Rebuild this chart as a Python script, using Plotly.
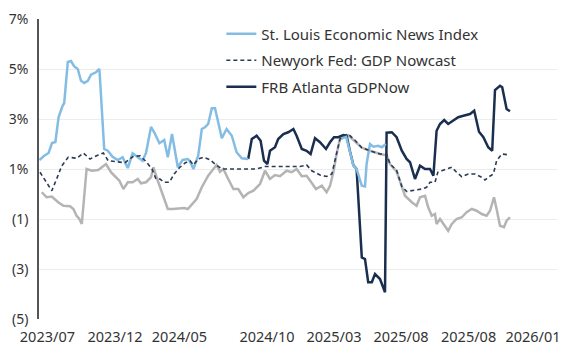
import plotly.graph_objects as go

# x = observation index (weeks), y = GDP growth estimate (%)
tick_pos = [2.1, 19, 35.1, 57, 73.75, 90.5, 107.4, 123.5]
tick_text = ["2023/07", "2023/12", "2024/05", "2024/10", "2025/03", "2025/08", "2025/08", "2026/01"]

y_ticks = [-5, -3, -1, 1, 3, 5, 7]
y_text = ["(5)", "(3)", "(1)", "1%", "3%", "5%", "7%"]

stl_x = [0.1, 1.3, 2.4, 3.25, 4.1, 4.9, 5.9, 6.3, 7.2, 8.0, 8.8, 9.7, 10.5, 11.3, 12.2, 13.0, 14.25, 15.1,
         16.3, 17.2, 18.4, 19.7, 20.9, 22.2, 23.4, 24.7, 25.9, 26.75, 28, 28.8, 30.1, 31.3, 32.2, 33.25,
         34.7, 35.9, 37.2, 37.75, 38.6, 39.8, 40.7, 41.5, 42.3, 43.2, 44, 44.8, 45.7, 46.9, 48.2, 49.4,
         50.7, 52.3, None,
         75.5, 76.75, 77.75, 78.6, 79.4, 79.8, 80.7, 81.5, 81.9, 82.75, 83.6, 84.8, 85.7, 86.7]
stl_y = [1.36, 1.53, 1.64, 2.04, 2.08, 3.08, 3.53, 3.64, 5.28, 5.32, 5.1, 5.0, 4.53, 4.44, 4.53, 4.77, 4.87, 5.0,
         1.8, 1.73, 1.49, 1.36, 1.47, 1.04, 1.63, 1.47, 1.33, 1.64, 2.68, 2.47, 2.03, 2.16, 1.47, 2.4,
         1.07, 1.36, 1.4, 1.3, 1.0, 1.53, 2.6, 2.67, 2.8, 3.43, 3.43, 2.87, 2.23, 2.6, 2.33, 1.67,
         1.43, 1.4, None,
         2.2, 2.3, 1.68, 1.13, 1.0, 0.8, 0.33, 0.3, 1.2, 2.0, 1.89, 1.93, 1.87, 2.0]

ny_x = [0.25, 2.3, 3.2, 4.4, 5.7, 7.3, 9.4, 11.1, 12.75, 14.8, 16.1, 17.3, 19, 21.5, 23.5, 25.25, 26.75,
        28.25, 29.25, 30.25, 31.3, 32.6, 33.8, 35.1, 36.5, 37.75, 38.6, 39.8, 41.1, 42.75, 44, 45.7, 47.75,
        51.1, 54.4, 56.5, 59.4, 62.75, 65.25, 66.9, 68.2, 70.25, 71.9, 73.2, 74.4, 75.25, 76.1, 77.3, 79,
        80.7, 82.75, 85.25, 86.9, 87.75, 89.4, 90.7, 91.9, 94, 95.7, 96.9, 97.75, 99, 99.7, 100.7, 101.9,
        103.2, 104.4, 105.7, 107.3, 109, 110.7, 111.5, 112.3, 113.6, 114.4, 115.7, 117.3]
ny_y = [0.87, 0.33, 0.13, 0.6, 1.13, 1.47, 1.43, 1.64, 1.4, 1.56, 1.64, 1.33, 1.3, 1.25, 1.5, 1.53, 1.3,
        1.0, 0.6, 0.6, 0.47, 0.47, 0.8, 1.05, 1.24, 1.33, 1.16, 1.4, 1.47, 1.37, 1.2, 1.0, 1.0,
        1.0, 1.0, 1.1, 1.1, 1.1, 1.1, 1.16, 0.93, 0.76, 0.7, 0.8, 1.6, 2.2, 2.33, 2.4, 2.15,
        1.85, 1.73, 1.6, 1.6, 1.2, 0.95, 0.3, 0.1, 0.15, 0.2, 0.27, 0.47, 0.47, 0.87, 0.93, 1.0,
        1.07, 0.87, 0.69, 0.8, 0.8, 0.67, 0.56, 0.67, 0.8, 1.33, 1.6, 1.57]

atl_x = [52.3, 53.2, 54.4, 55.4, 56.25, 57.1, 57.75, 59, 59.8, 61.1, 62.3, 63.6, 64.4, 65.7, 66.9, 67.9,
         69, 70.25, 71.75, 72.75, 73.75, 74.8, 76.1, 76.9, 77.75, 78.6, 79.4, 80.7, 81.5, 82.3, 83.2, 84,
         85.25, 86.5, 86.9, 88.2, 89.4, 90.7, 91.9, 92.75, 94, 95.25, 96.5, 97.75, 98.6, 99.4, 100.25,
         101.3, 102.3, 103.6, 104.8, 106.1, 107.75, 108.8, 110, 111.1, 112.3, 113.3, 114, 115.25, 115.8,
         116.9, 117.75]
atl_y = [1.4, 2.2, 2.33, 2.13, 1.33, 1.2, 1.73, 1.87, 2.2, 2.4, 2.47, 2.6, 2.33, 1.8, 1.73, 1.6,
         2.23, 2.07, 1.8, 2.07, 2.27, 2.27, 2.36, 2.33, 1.7, 1.15, 1.0, -2.54, -2.6, -3.53, -3.53, -3.2,
         -3.4, -3.93, 2.45, 2.47, 2.27, 1.73, 1.4, 1.27, 0.6, 1.13, 1.0, 1.0, 0.73, 2.53, 2.8,
         2.96, 2.8, 2.93, 3.07, 3.13, 3.2, 3.33, 2.49, 2.27, 1.87, 1.73, 4.16, 4.33, 4.27,
         3.4, 3.31]

gray_x = [0.7, 1.9, 3.2, 4.8, 6.1, 7.75, 8.6, 9.4, 10.1, 10.7, 11.9, 13.2, 14.8, 16.75, 18, 19.25, 20.1,
          21.1, 22.2, 23.4, 24.7, 25.5, 26.75, 28, 28.6, 29.7, 30.9, 32.2, 33.4, 35.1, 36.3, 37.2, 38.4,
          39.4, 40.7, 42.3, 43.6, 44.4, 45.25, 46.1, 47.3, 48.6, 49.8, 51.1, 52.3, 53.6, 55.25, 56.5,
          57.75, 59, 60.25, 61.9, 63.2, 64.4, 65.7, 66.9, 68.2, 69.25, 70.7, 71.9, 72.75, 73.6, 74.4,
          75.25, 77.3, 79, 80.7, 82.75, 85.25, 86.9, 87.75, 89.4, 90.7, 91.5, 93.2, 94.4, 95.25, 96.5,
          97.3, 98.2, 99, 99.4, 100.25, 101.1, 102.3, 103.2, 104.4, 105.7, 106.9, 108.2, 109.4, 110.7,
          111.9, 112.75, 113.75, 114.4, 115.25, 116.25, 116.9, 117.75]
gray_y = [0.07, -0.13, -0.1, -0.33, -0.47, -0.49, -0.6, -0.87, -1.0, -1.2, 1.0, 0.93, 0.96, 1.2, 0.87, 0.69, 0.53,
          0.2, 0.47, 0.47, 0.6, 0.43, 0.47, 0.67, 1.07, 0.53, 0.0, -0.6, -0.6, -0.56, -0.56, -0.6, -0.4,
          -0.2, 0.27, 0.73, 1.0, 1.16, 0.89, 1.0, 0.6, 0.2, 0.2, -0.13, 0.04, 0.13, 0.4, 0.93,
          0.6, 0.76, 0.71, 0.93, 0.87, 1.0, 0.71, 0.73, 0.44, 0.2, 0.33, 0.07, 0.33, 0.87, 1.6,
          2.2, 2.35, 2.1, 1.85, 1.73, 1.6, 1.55, 1.2, 0.9, 0.27, -0.07, -0.33, -0.47, -0.13, -0.07,
          -0.53, -0.87, -0.8, -1.2, -1.0, -1.2, -1.47, -1.2, -1.0, -0.93, -0.73, -0.6, -0.67, -0.8,
          -0.87, -0.67, -0.13, -0.6, -1.27, -1.33, -1.07, -0.93]

FONT = "Noto Sans"
fig = go.Figure()
fig.add_trace(go.Scatter(x=gray_x, y=gray_y, mode="lines", showlegend=False,
                         line=dict(color="#b4b4b4", width=2.5)))
fig.add_trace(go.Scatter(x=atl_x, y=atl_y, mode="lines", name="FRB Atlanta GDPNow", legendrank=3,
                         legendgroup="c", line=dict(color="#1a2e4f", width=2.5)))
fig.add_trace(go.Scatter(x=stl_x, y=stl_y, mode="lines", name="St. Louis Economic News Index", legendrank=1,
                         legendgroup="a", line=dict(color="#84bde4", width=2.5), connectgaps=False))
fig.add_trace(go.Scatter(x=ny_x, y=ny_y, mode="lines", name="Newyork Fed: GDP Nowcast", legendrank=2,
                         legendgroup="b", line=dict(color="#2b3a56", width=1.6, dash="4px,3px")))

fig.update_layout(
    width=562, height=347,
    margin=dict(l=39, r=5, t=19, b=28),
    paper_bgcolor="white", plot_bgcolor="white",
    font=dict(family=FONT, size=14, color="#333333"),
    legend=dict(x=0.352, xanchor="left", y=1.005, yanchor="top", bgcolor="rgba(0,0,0,0)",
                font=dict(size=15, color="#333333"), traceorder="grouped", tracegroupgap=4,
                itemwidth=30),
    xaxis=dict(range=[0, 129.5], tickvals=tick_pos, ticktext=tick_text, showgrid=False,
               zeroline=False, showline=False, ticks="", ticklabelstandoff=7, automargin=False,
               tickfont=dict(size=14.5, color="#333333")),
    yaxis=dict(range=[-5, 7], tickvals=y_ticks, ticktext=y_text, showgrid=True, gridcolor="#ececec",
               gridwidth=1, zeroline=False, showline=True, linecolor="#555555", linewidth=1.5,
               ticks="", ticklabelstandoff=6, automargin=False, tickfont=dict(size=14, color="#333333")),
)

fig.write_html("out.html")
